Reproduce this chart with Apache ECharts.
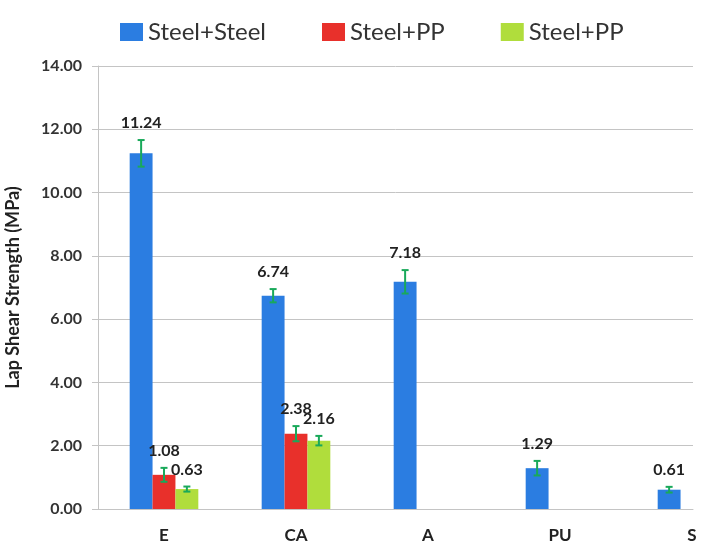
<!DOCTYPE html>
<html>
<head>
<meta charset="utf-8">
<script src="https://cdn.jsdelivr.net/npm/echarts@6/dist/echarts.min.js"></script>
<style>html,body{margin:0;padding:0;background:#fff}#c{width:702px;height:560px}</style>
</head>
<body>
<div id="c"></div>
<script>
const categories = ['E', 'CA', 'A', 'PU', 'S'];
const seriesNames = ['Steel+Steel', 'Steel+PP', 'Steel+PP '];
const steelSteel = [11.24, 6.74, 7.18, 1.29, 0.61];
const steelSteelErr = [0.42, 0.21, 0.37, 0.23, 0.09];
const steelPP1 = [1.08, 2.38, null, null, null];
const steelPP1Err = [0.22, 0.24, null, null, null];
const steelPP2 = [0.63, 2.16, null, null, null];
const steelPP2Err = [0.08, 0.15, null, null, null];
const yTicks = [0, 2, 4, 6, 8, 10, 12, 14];

const colors = ['#2b7de1', '#e8302b', '#b0dd3c'];
const errColor = '#19a95a';
const lineColor = '#c4c4c4';
const FONT = 'Lato';
const GAP = 0.48;

const values = [steelSteel, steelPP1, steelPP2];
const errs = [steelSteelErr, steelPP1Err, steelPP2Err];

const errData = [];
values.forEach((arr, s) => arr.forEach((v, i) => {
  if (v != null) errData.push([i, v, errs[s][i], s]);
}));

const yMin = yTicks[0], yMax = yTicks[yTicks.length - 1];

const chart = echarts.init(document.getElementById('c'), null, {renderer: 'canvas'});
chart.setOption({
  animation: false,
  backgroundColor: '#fff',
  color: colors,
  legend: {
    data: seriesNames,
    top: 15,
    left: 115,
    itemWidth: 23,
    itemHeight: 18,
    itemGap: 56,
    icon: 'rect',
    formatter: n => n.trim(),
    textStyle: {fontFamily: FONT, fontSize: 24, color: '#333'}
  },
  grid: [
    {left: 98, top: 66, width: 660, height: 443, containLabel: false, outerBoundsMode: 'none'},
    {left: 98, top: 66, width: 595, height: 443, containLabel: false, outerBoundsMode: 'none'}
  ],
  xAxis: [{
    type: 'category',
    gridIndex: 0,
    data: categories,
    axisLine: {show: false},
    axisTick: {show: false},
    axisLabel: {fontFamily: FONT, fontWeight: 'bold', fontSize: 17, color: '#222', margin: 18}
  }, {
    type: 'value',
    gridIndex: 1,
    min: 0, max: 1,
    axisLine: {show: true, onZero: false, lineStyle: {color: lineColor, width: 1}},
    axisTick: {show: false},
    axisLabel: {show: false},
    splitLine: {show: false}
  }],
  yAxis: [{
    type: 'value',
    gridIndex: 0,
    min: yMin,
    max: yMax,
    interval: 2,
    name: 'Lap Shear Strength (MPa)',
    nameLocation: 'middle',
    nameGap: 76,
    nameTextStyle: {fontFamily: FONT, fontWeight: 'bold', fontSize: 18, color: '#222'},
    axisLine: {show: true, lineStyle: {color: lineColor}},
    axisTick: {show: true, length: 6, lineStyle: {color: lineColor}},
    axisLabel: {fontFamily: FONT, fontWeight: 'bold', fontSize: 16, color: '#333', margin: 16,
      formatter: v => v.toFixed(2)},
    splitLine: {show: false}
  }, {
    type: 'value',
    gridIndex: 1,
    min: yMin,
    max: yMax,
    interval: 2,
    axisLine: {show: false},
    axisTick: {show: false},
    axisLabel: {show: false},
    splitLine: {show: true, lineStyle: {color: lineColor, width: 1}}
  }],
  series: [
    ...seriesNames.map((n, s) => ({
      name: n,
      type: 'bar',
      data: values[s],
      barGap: '0%',
      barCategoryGap: (GAP * 100) + '%',
      itemStyle: {color: colors[s]},
      z: 3
    })),
    {
      type: 'custom',
      name: 'err',
      z: 5,
      data: errData,
      renderItem: function (params, api) {
        const cat = api.value(0), val = api.value(1), err = api.value(2), slot = api.value(3);
        const c = api.coord([cat, val]);
        const catW = api.size([1, 0])[0];
        const bw = catW * (1 - GAP) / 3;
        const x = c[0] + (slot - 1) * bw;
        const top = api.coord([cat, val + err])[1];
        const bot = api.coord([cat, val - err])[1];
        const cap = 3.5;
        const ls = {stroke: errColor, lineWidth: 2};
        return {
          type: 'group',
          children: [
            {type: 'line', shape: {x1: x, y1: top, x2: x, y2: bot}, style: ls},
            {type: 'line', shape: {x1: x - cap, y1: top, x2: x + cap, y2: top}, style: ls},
            {type: 'line', shape: {x1: x - cap, y1: bot, x2: x + cap, y2: bot}, style: ls},
            {type: 'text', style: {
              text: val.toFixed(2), x: x, y: top - 9,
              align: 'center', verticalAlign: 'bottom',
              font: 'bold 16px ' + FONT, fill: '#222'
            }}
          ]
        };
      }
    }
  ]
});
</script>
</body>
</html>
